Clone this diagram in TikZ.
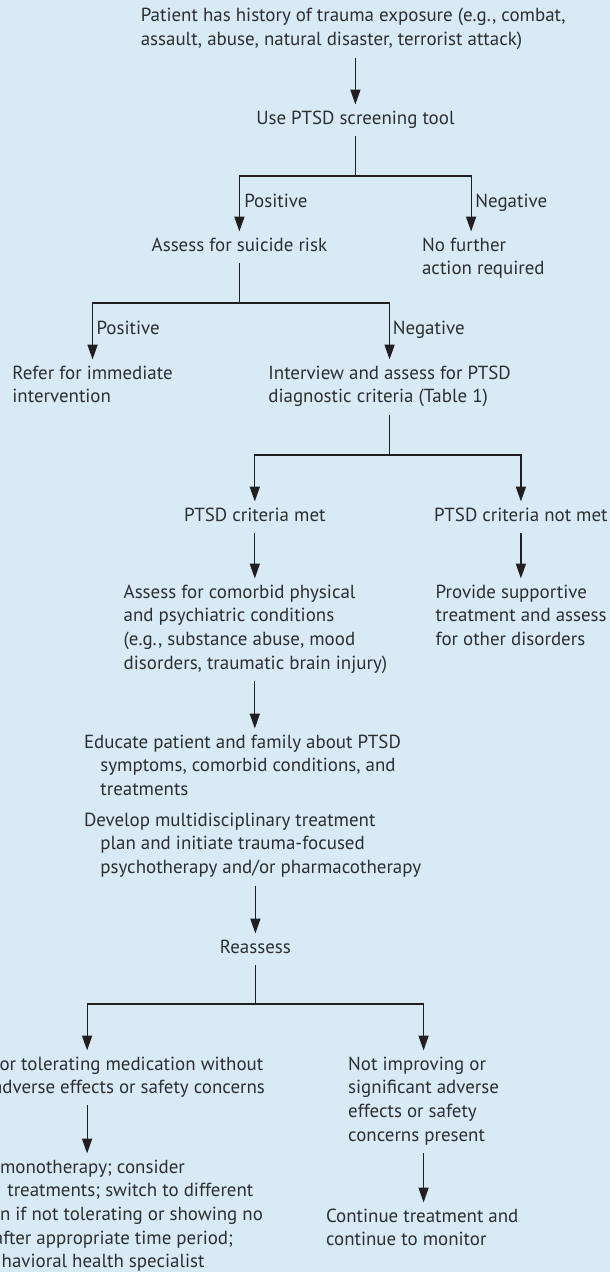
\documentclass[tikz,border=0pt]{standalone}
\usepackage{fontspec}
\setmainfont{PT Sans}
\usetikzlibrary{arrows.meta}
\definecolor{bgblue}{HTML}{D7EAF6}
\definecolor{ink}{HTML}{2E2E2E}
\definecolor{lineink}{HTML}{231F20}
\newcommand\chartfont{\fontsize{14.2}{17.8}\selectfont}
\begin{document}
\begin{tikzpicture}[x=0.75pt,y=-0.75pt,
  txt/.style={inner sep=0pt, outer sep=0pt, anchor=north west, align=left, font=\chartfont, text=ink},
  ctxt/.style={txt, anchor=north, align=center},
  ln/.style={draw=lineink, line width=0.9pt},
  gap/.style={shorten <=3.75pt},
  arr/.style={ln, -{Triangle[length=11pt,width=7.5pt]}, shorten >=2.25pt}]
\useasboundingbox (0,0) rectangle (610,1272);
\clip (0,0) rectangle (610,1272);
\fill[bgblue] (0,0) rectangle (610,1272);

% nodes
\node[txt] (title) at (140.8,5.1) {\strut Patient has history of trauma exposure (e.g., combat,\\\strut assault, abuse, natural disaster, terrorist attack)};
\node[ctxt] (screen) at (355.4,107.4) {\strut Use PTSD screening tool\strut};
\node[txt] (posA) at (244.3,190.4) {\strut Positive};
\node[txt] (negA) at (475.4,190.4) {\strut Negative};
\node[ctxt] (suicide) at (239.4,234.4) {\strut Assess for suicide risk\strut};
\node[txt] (nofurther) at (422.1,234.4) {\strut No further\\\strut action required};
\node[txt] (posB) at (96.5,317.4) {\strut Positive};
\node[txt] (negB) at (392.9,317.4) {\strut Negative};
\node[txt] (refer) at (12.4,362.4) {\strut Refer for immediate\\\strut intervention};
\node[txt] (interview) at (268.4,362.4) {\strut Interview and assess for PTSD\\\strut diagnostic criteria (Table 1)};
\node[ctxt] (met) at (254.8,504.4) {\strut PTSD criteria met\strut};
\node[ctxt] (notmet) at (520.9,504.4) {\strut PTSD criteria not met\strut};
\node[txt] (comorbid) at (123.7,581.4) {\strut Assess for comorbid physical\\and psychiatric conditions\\(e.g., substance abuse, mood\\\strut disorders, traumatic brain injury)};
\node[txt] (supportive) at (435.7,581.4) {\strut Provide supportive\\treatment and assess\\\strut for other disorders};
\node[txt] (educate) at (84,731.4) {\strut Educate patient and family about PTSD\\\hspace*{12.3pt}symptoms, comorbid conditions, and\\\strut\hspace*{12.3pt}treatments};
\node[txt] (develop) at (84,809.4) {\strut Develop multidisciplinary treatment\\\hspace*{12.3pt}plan and initiate trauma-focused\\\strut\hspace*{12.3pt}psychotherapy and/or pharmacotherapy};
\node[ctxt] (reassess) at (255.4,936.4) {\strut Reassess\strut};
\node[txt] (improving) at (-7,1053.4) {\strut\hspace*{4.9pt}or tolerating medication without\\\strut adverse effects or safety concerns};
\node[txt] (notimproving) at (348.2,1053.4) {\strut Not improving or\\significant adverse\\effects or safety\\\strut concerns present};
\node[txt] (monotherapy) at (-8,1156.4) {\strut\hspace*{6pt}monotherapy; consider\\\hspace*{11.5pt}treatments; switch to different\\\hspace*{6pt}n if not tolerating or showing no\\\hspace*{1.5pt}after appropriate time period;\\\strut\hspace*{7.3pt}havioral health specialist};
\node[txt] (continue) at (326,1205.4) {\strut Continue treatment and\\\strut continue to monitor};

% junctions and free ends
\coordinate (j1) at (screen.south |- 0,176);
\coordinate (j2) at (suicide.south |- 0,303);
\coordinate (j3) at (interview.south |- 0,455);
\coordinate (j4) at (reassess.south |- 0,1004);
\coordinate (nfTop) at (471.1,234.4);
\coordinate (impL) at (87.1,1053.4);
\coordinate (impBot) at (87.1,1100.1);
\coordinate (monoTop) at (87.1,1156.4);

% connectors
\draw[arr,gap] (title.south -| screen.north) -- (screen.north);
\draw[ln,gap] (screen.south) -- (j1);
\draw[arr] (j1) -| (suicide.north);
\draw[arr] (j1) -| (nfTop);
\draw[ln,gap] (suicide.south) -- (j2);
\draw[arr] (j2) -| (refer.north);
\draw[arr] (j2) -| (interview.north);
\draw[ln,gap] (interview.south) -- (j3);
\draw[arr] (j3) -| (met.north);
\draw[arr] (j3) -| (notmet.north);
\draw[arr,gap] (met.south) -- (comorbid.north -| met.south);
\draw[arr,gap] (notmet.south) -- (supportive.north -| notmet.south);
\draw[arr,gap] (comorbid.south -| met.south) -- (educate.north -| met.south);
\draw[arr,gap] (develop.south -| reassess.north) -- (reassess.north);
\draw[ln,gap] (reassess.south) -- (j4);
\draw[arr] (j4) -| (impL);
\draw[arr] (j4) -| (notimproving.north);
\draw[arr,gap] (impBot) -- (monoTop);
\draw[arr,gap] (notimproving.south) -- (continue.north -| notimproving.south);
\end{tikzpicture}
\end{document}
